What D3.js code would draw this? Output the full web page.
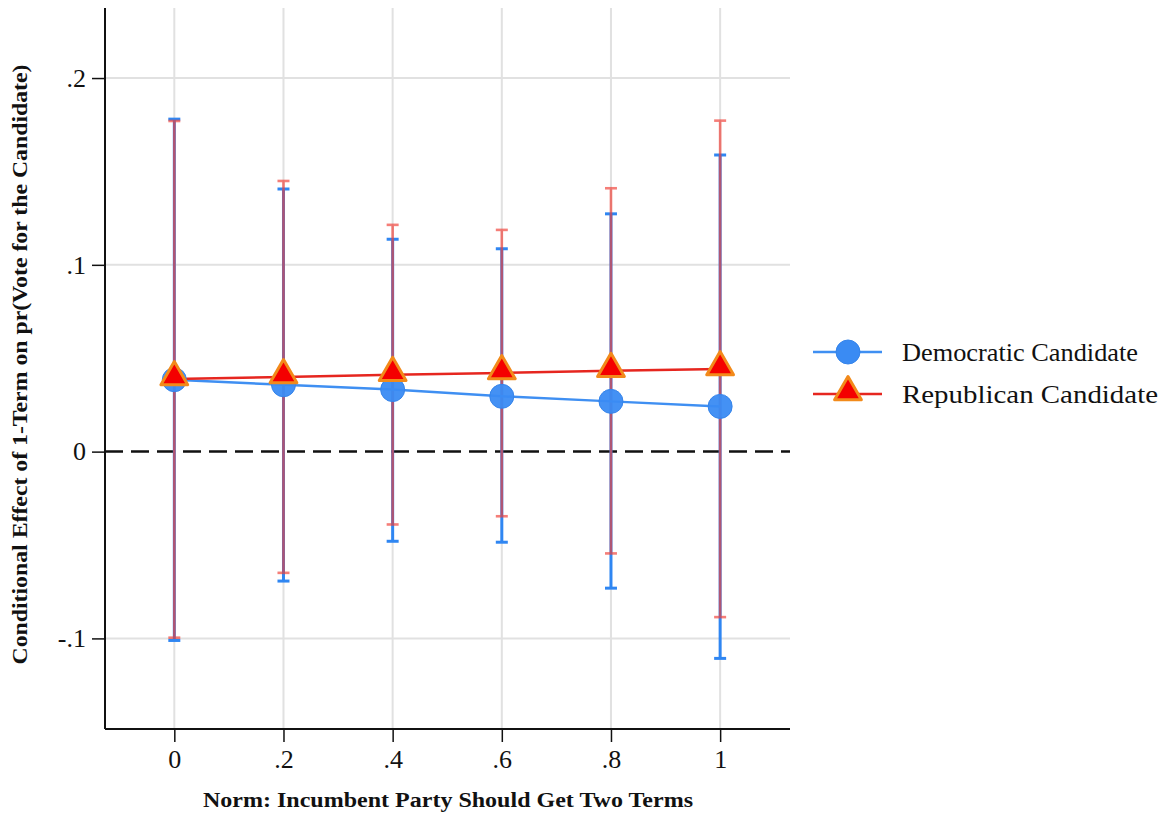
<!DOCTYPE html>
<html>
<head>
<meta charset="utf-8">
<script src="https://cdn.jsdelivr.net/npm/d3@7"></script>
<style>
  body { margin: 0; background: #fff; }
  svg { display: block; font-family: "Liberation Serif", "DejaVu Serif", serif; }
</style>
</head>
<body>
<svg width="1170" height="814"></svg>
<script>
// Values
const normLevels = [0, 0.2, 0.4, 0.6, 0.8, 1];
const xTickLabels = ['0', '.2', '.4', '.6', '.8', '1'];
const yTicks = [-0.1, 0, 0.1, 0.2];
const yTickLabels = ['-.1', '0', '.1', '.2'];

const demEffect = [0.0385, 0.0358, 0.0332, 0.0296, 0.0269, 0.0242];
const demUpper = [0.178, 0.1406, 0.1137, 0.1086, 0.1273, 0.1588];
const demLower = [-0.1011, -0.0693, -0.048, -0.0485, -0.0731, -0.1107];

const repEffect = [0.0389, 0.0400, 0.0412, 0.0421, 0.0433, 0.0442];
const repUpper = [0.177, 0.1449, 0.1214, 0.1187, 0.141, 0.1772];
const repLower = [-0.0996, -0.0649, -0.039, -0.0346, -0.0545, -0.0886];

const seriesNames = ['Democratic Candidate', 'Republican Candidate'];

const svg = d3.select('svg');
const margin = { top: 8, right: 380, bottom: 85, left: 105 };
const width = 1170 - margin.left - margin.right;
const height = 814 - margin.top - margin.bottom;

const g = svg.append('g')
    .attr('transform', `translate(${margin.left},${margin.top})`);

// scales - padded like Stata does
const xScale = d3.scaleLinear().domain([-0.127, 1.128]).range([0, width]);
const yScale = d3.scaleLinear().domain([-0.1485, 0.2375]).range([height, 0]);

// gridlines
g.append('g').selectAll('line.hgrid')
    .data(yTicks.filter(d => d !== 0))
    .join('line')
    .attr('x1', 0).attr('x2', width)
    .attr('y1', d => yScale(d)).attr('y2', d => yScale(d))
    .attr('stroke', '#e1e1e1').attr('stroke-width', 2);

g.append('g').selectAll('line.vgrid')
    .data(normLevels)
    .join('line')
    .attr('x1', d => xScale(d)).attr('x2', d => xScale(d))
    .attr('y1', 0).attr('y2', height)
    .attr('stroke', '#e1e1e1').attr('stroke-width', 2);

// zero reference line
g.append('line')
    .attr('x1', 0).attr('x2', width)
    .attr('y1', yScale(0)).attr('y2', yScale(0))
    .attr('stroke', '#111').attr('stroke-width', 2.5)
    .attr('stroke-dasharray', '18,8');

// axes
const xAxis = d3.axisBottom(xScale)
    .tickValues(normLevels)
    .tickFormat((d, i) => xTickLabels[i])
    .tickSize(13).tickPadding(8);
const yAxis = d3.axisLeft(yScale)
    .tickValues(yTicks)
    .tickFormat((d, i) => yTickLabels[i])
    .tickSize(13).tickPadding(6);

const xg = g.append('g').attr('transform', `translate(0,${height})`).call(xAxis);
const yg = g.append('g').call(yAxis);
[xg, yg].forEach(a => {
    a.select('.domain').attr('stroke', '#111').attr('stroke-width', 2);
    a.selectAll('.tick line').attr('stroke', '#111').attr('stroke-width', 1.5);
    a.selectAll('.tick text')
        .attr('fill', '#111')
        .style('font-family', '"Liberation Serif", serif')
        .style('font-size', '26px');
});
// remove outer tick ends on domain path
xg.select('.domain').attr('d', `M0,0H${width}`);
yg.select('.domain').attr('d', `M0,0V${height}`);

// error bars
const capW = 6;
function errorBars(upper, lower, color, width, opacity) {
    const eb = g.append('g').attr('opacity', opacity);
    eb.selectAll('line.bar')
        .data(normLevels)
        .join('line')
        .attr('x1', d => xScale(d)).attr('x2', d => xScale(d))
        .attr('y1', (d, i) => yScale(upper[i]))
        .attr('y2', (d, i) => yScale(lower[i]))
        .attr('stroke', color).attr('stroke-width', width);
    [upper, lower].forEach(vals => {
        eb.selectAll(null)
            .data(normLevels)
            .join('line')
            .attr('x1', d => xScale(d) - capW).attr('x2', d => xScale(d) + capW)
            .attr('y1', (d, i) => yScale(vals[i]))
            .attr('y2', (d, i) => yScale(vals[i]))
            .attr('stroke', color).attr('stroke-width', width);
    });
}
errorBars(demUpper, demLower, '#2f86f2', 3, 1);
errorBars(repUpper, repLower, '#f03c34', 2.6, 0.66);

// series lines
const line = vals => d3.line()
    .x(d => xScale(d))
    .y((d, i) => yScale(vals[i]))(normLevels);

g.append('path').attr('d', line(demEffect))
    .attr('fill', 'none').attr('stroke', '#3f8ff2').attr('stroke-width', 2.5);
g.append('path').attr('d', line(repEffect))
    .attr('fill', 'none').attr('stroke', '#e6261f').attr('stroke-width', 2.5);

// markers
const circleR = 12;
const tri = d3.symbol().type(d3.symbolTriangle).size(310);

g.selectAll('circle.dem')
    .data(normLevels)
    .join('circle')
    .attr('cx', d => xScale(d))
    .attr('cy', (d, i) => yScale(demEffect[i]))
    .attr('r', circleR)
    .attr('fill', '#3a8bf3')
    .attr('fill-opacity', 0.95)
    .attr('stroke', '#3584ea').attr('stroke-width', 1);

g.selectAll('path.rep')
    .data(normLevels)
    .join('path')
    .attr('d', tri)
    .attr('transform', (d, i) => `translate(${xScale(d)},${yScale(repEffect[i]) - 2})`)
    .attr('fill', '#f40000')
    .attr('stroke', '#f28a1a').attr('stroke-width', 3)
    .attr('stroke-linejoin', 'round');

// axis titles
svg.append('text')
    .attr('transform', `translate(27,${margin.top + height / 2 - 4}) rotate(-90)`)
    .attr('text-anchor', 'middle')
    .attr('textLength', 600)
    .attr('lengthAdjust', 'spacingAndGlyphs')
    .style('font-size', '20px')
    .style('font-weight', 'bold')
    .attr('fill', '#111')
    .text('Conditional Effect of 1-Term on pr(Vote for the Candidate)');

svg.append('text')
    .attr('x', 448)
    .attr('y', 807)
    .attr('text-anchor', 'middle')
    .attr('textLength', 490)
    .attr('lengthAdjust', 'spacingAndGlyphs')
    .style('font-size', '20px')
    .style('font-weight', 'bold')
    .attr('fill', '#111')
    .text('Norm: Incumbent Party Should Get Two Terms');

// legend
const legend = svg.append('g').attr('transform', 'translate(813,352)');
const legendRows = legend.selectAll('g')
    .data(seriesNames)
    .join('g')
    .attr('transform', (d, i) => `translate(0,${i * 42})`);

legendRows.append('line')
    .attr('x1', 0).attr('x2', 69)
    .attr('stroke', (d, i) => i === 0 ? '#3f8ff2' : '#e6261f')
    .attr('stroke-width', 2.5);

legendRows.filter((d, i) => i === 0).append('circle')
    .attr('cx', 35).attr('r', circleR)
    .attr('fill', '#3a8bf3').attr('stroke', '#3584ea');

legendRows.filter((d, i) => i === 1).append('path')
    .attr('d', tri)
    .attr('transform', 'translate(35,-2)')
    .attr('fill', '#f40000')
    .attr('stroke', '#f28a1a').attr('stroke-width', 3)
    .attr('stroke-linejoin', 'round');

legendRows.append('text')
    .attr('x', 89)
    .attr('dy', '0.35em')
    .attr('textLength', (d, i) => i === 0 ? 236 : 256)
    .attr('lengthAdjust', 'spacingAndGlyphs')
    .style('font-size', '26px')
    .attr('fill', '#111')
    .text(d => d);
</script>
</body>
</html>
